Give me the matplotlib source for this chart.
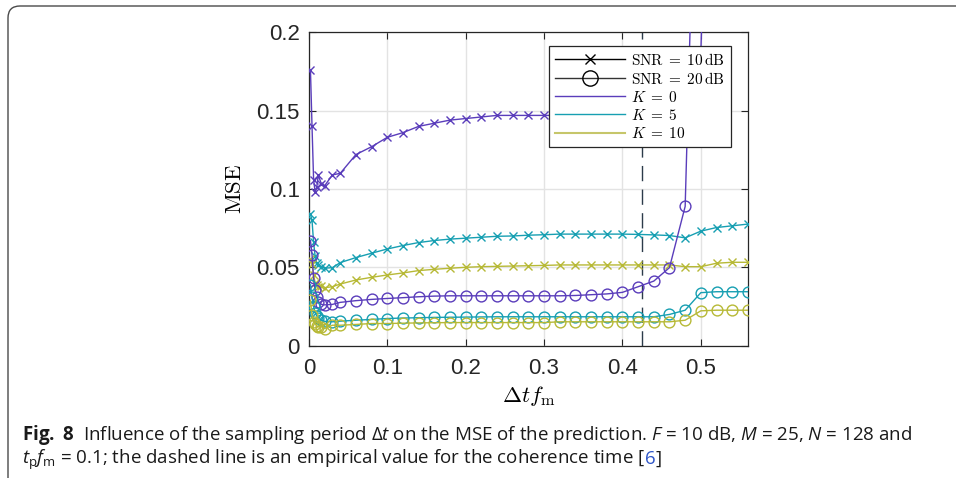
import matplotlib
matplotlib.use('Agg')
import matplotlib.pyplot as plt
from matplotlib.lines import Line2D
from matplotlib.patches import FancyBboxPatch
from matplotlib.transforms import IdentityTransform
from matplotlib import font_manager as fm

# ---------------- data ----------------
dt_fm = [0.002, 0.004, 0.006, 0.008, 0.010, 0.012, 0.016, 0.020, 0.030, 0.040,
         0.06, 0.08, 0.10, 0.12, 0.14, 0.16, 0.18, 0.20, 0.22, 0.24, 0.26, 0.28,
         0.30, 0.32, 0.34, 0.36, 0.38, 0.40, 0.42, 0.44, 0.46, 0.48, 0.50, 0.52,
         0.54, 0.56]

k0_snr10 = [0.176, 0.140, 0.106, 0.098, 0.101, 0.109, 0.103, 0.102, 0.109, 0.110,
            0.122, 0.127, 0.133, 0.136, 0.140, 0.142, 0.144, 0.145, 0.146, 0.147,
            0.147, 0.147, 0.147, 0.147, 0.147, 0.147, 0.147, 0.147, 0.147, 0.147,
            0.148, 0.152, 0.188, 0.50, 0.90, 1.20]
k5_snr10 = [0.084, 0.080, 0.066, 0.057, 0.053, 0.0515, 0.0504, 0.0494, 0.0498, 0.053,
            0.0562, 0.059, 0.0617, 0.0639, 0.0658, 0.0671, 0.068, 0.0686, 0.0692, 0.0698,
            0.070, 0.0705, 0.0708, 0.0712, 0.0712, 0.0712, 0.0712, 0.0712, 0.071, 0.0707,
            0.0703, 0.0688, 0.0731, 0.0754, 0.0765, 0.0776]
k10_snr10 = [0.055, 0.052, 0.045, 0.040, 0.0385, 0.0376, 0.0383, 0.037, 0.0376, 0.0393,
             0.0419, 0.0436, 0.0451, 0.0464, 0.0479, 0.0487, 0.0494, 0.050, 0.0504, 0.0506,
             0.0508, 0.051, 0.0512, 0.0515, 0.0515, 0.0515, 0.0515, 0.0515, 0.0515, 0.0515,
             0.0515, 0.0504, 0.0504, 0.0526, 0.0532, 0.0532]
k0_snr20 = [0.067, 0.058, 0.043, 0.0355, 0.031, 0.028, 0.0263, 0.026, 0.0263, 0.0276,
            0.0287, 0.0295, 0.0301, 0.0306, 0.0312, 0.0316, 0.0318, 0.0318, 0.0318, 0.0318,
            0.0318, 0.0318, 0.0318, 0.0318, 0.032, 0.0325, 0.033, 0.034, 0.0376, 0.0412,
            0.0498, 0.0889, 0.45, 1.0, 1.5, 2.0]
k5_snr20 = [0.039, 0.031, 0.025, 0.021, 0.019, 0.0175, 0.0162, 0.0155, 0.0152, 0.0156,
            0.0162, 0.0167, 0.0173, 0.0176, 0.0178, 0.018, 0.0181, 0.0182, 0.0183, 0.0184,
            0.0184, 0.0184, 0.0184, 0.0184, 0.0184, 0.0184, 0.0184, 0.0184, 0.0184, 0.0184,
            0.0199, 0.0226, 0.0338, 0.0344, 0.0344, 0.0344]
k10_snr20 = [0.029, 0.0194, 0.0152, 0.014, 0.0125, 0.012, 0.012, 0.0109, 0.013, 0.013,
             0.0135, 0.0141, 0.0141, 0.0143, 0.0145, 0.0146, 0.0147, 0.0147, 0.0147, 0.0147,
             0.0147, 0.0147, 0.0147, 0.0152, 0.0152, 0.0152, 0.0152, 0.0152, 0.0152, 0.0152,
             0.0152, 0.0162, 0.0222, 0.0226, 0.0226, 0.0226]

coherence_x = 0.425
x_ticks = [0, 0.1, 0.2, 0.3, 0.4, 0.5]
x_ticklabels = ['0', '0.1', '0.2', '0.3', '0.4', '0.5']
y_ticks = [0, 0.05, 0.1, 0.15, 0.2]
y_ticklabels = ['0', '0.05', '0.1', '0.15', '0.2']

legend_labels = [r'$\mathrm{SNR}\;=\;10\,\mathrm{dB}$', r'$\mathrm{SNR}\;=\;20\,\mathrm{dB}$',
                 r'$K\;=\;0$', r'$K\;=\;5$', r'$K\;=\;10$']

caption_line1 = (r"$\mathbf{Fig.\ 8}$  Influence of the sampling period $\Delta t$ on the MSE "
                 r"of the prediction. $F$ = 10 dB, $M$ = 25, $N$ = 128 and")
caption_line2a = r"$t_\mathrm{p}f_\mathrm{m}$ = 0.1; the dashed line is an empirical value for the coherence time ["
caption_ref = "6"
caption_line2b = "]"

# ---------------- style ----------------
c_k0 = '#5a3dbb'
c_k5 = '#179fb2'
c_k10 = '#b7b936'
tick_font = 'Liberation Sans'

def installed(name):
    try:
        fm.findfont(fm.FontProperties(family=name), fallback_to_default=False)
        return True
    except Exception:
        return False

cap_font = 'Open Sans'
for cand in ['Liberation Sans Narrow', 'Open Sans', 'Noto Sans']:
    if installed(cand):
        cap_font = cand
        break

plt.rcParams['mathtext.fontset'] = 'cm'
plt.rcParams['mathtext.rm'] = cap_font
plt.rcParams['mathtext.it'] = cap_font + ':italic'
plt.rcParams['mathtext.bf'] = cap_font + ':bold'

fig = plt.figure(figsize=(9.56, 4.78), dpi=100)
ax = fig.add_axes([0.3231, 0.2770, 0.4592, 0.6552])

ax.grid(True, color='#e3e3e3', linewidth=1.0)
ax.set_axisbelow(True)

ax.axvline(coherence_x, color='#2c3b4a', linewidth=1.0, linestyle=(0, (11, 6)), zorder=2)

series = [
    (k0_snr10, c_k0, 'x'), (k5_snr10, c_k5, 'x'), (k10_snr10, c_k10, 'x'),
    (k0_snr20, c_k0, 'o'), (k5_snr20, c_k5, 'o'), (k10_snr20, c_k10, 'o'),
]
for ys, col, mk in series:
    if mk == 'x':
        ax.plot(dt_fm, ys, color=col, linewidth=1.0, marker='x', markersize=5.5,
                markeredgewidth=1.0, zorder=3)
    else:
        ax.plot(dt_fm, ys, color=col, linewidth=1.0, marker='o', markersize=7.8,
                markerfacecolor='none', markeredgewidth=1.0, zorder=3)

ax.set_xlim(0, 0.56)
ax.set_ylim(0, 0.2)
ax.set_xticks(x_ticks)
ax.set_xticklabels(x_ticklabels)
ax.set_yticks(y_ticks)
ax.set_yticklabels(y_ticklabels)
for lab in ax.get_xticklabels() + ax.get_yticklabels():
    lab.set_fontfamily(tick_font)
    lab.set_fontsize(16)
    lab.set_color('#262626')
ax.tick_params(axis='both', direction='in', top=True, right=True, length=5,
               width=0.8, color='#262626')
ax.tick_params(axis='x', pad=9)
ax.tick_params(axis='y', pad=6.5)
for sp in ax.spines.values():
    sp.set_color('#262626')
    sp.set_linewidth(0.9)

ax.set_ylabel(r'$\mathrm{MSE}$', fontsize=16.5)
ax.yaxis.set_label_coords(-0.143, 0.5)
ax.set_xlabel(r'$\Delta t f_\mathrm{m}$', fontsize=16.5)
ax.xaxis.set_label_coords(0.5, -0.122)

handles = [
    Line2D([], [], color='k', linewidth=1.0, marker='x', markersize=7.5, markeredgewidth=1.0),
    Line2D([], [], color='#333333', linewidth=1.0, marker='o', markersize=11,
           markerfacecolor='none', markeredgecolor='k', markeredgewidth=1.0),
    Line2D([], [], color=c_k0, linewidth=1.0),
    Line2D([], [], color=c_k5, linewidth=1.0),
    Line2D([], [], color='#c6c66a', linewidth=1.5),
]
leg = ax.legend(handles, legend_labels, loc='upper right', bbox_to_anchor=(0.961, 0.958),
                borderaxespad=0, fontsize=11, handlelength=4.6, handletextpad=0.35,
                labelspacing=0.2, borderpad=0.4, numpoints=1, fancybox=False,
                framealpha=1, edgecolor='#262626')
leg.get_frame().set_linewidth(0.9)
leg.set_zorder(5)

# border frame
border = FancyBboxPatch((8, -30), 1000, 502, boxstyle='round,pad=0,rounding_size=12',
                        transform=IdentityTransform(), facecolor='none',
                        edgecolor='#4a4a4a', linewidth=1.0, clip_on=False)
fig.patches.append(border)

# caption
fig.canvas.draw()
renderer = fig.canvas.get_renderer()
W, H = 956, 478
x0 = 22 / W
t1 = fig.text(x0, (H - 440) / H, caption_line1, fontsize=12, family=cap_font,
              math_fontfamily='custom', va='baseline', ha='left', color='#1a1a1a')
w = t1.get_window_extent(renderer).width
fs = 12 * 888.0 / w
t1.set_fontsize(fs)

t2 = fig.text(x0, (H - 464) / H, caption_line2a, fontsize=fs, family=cap_font,
              math_fontfamily='custom', va='baseline', ha='left', color='#1a1a1a')
fig.canvas.draw()
bb = t2.get_window_extent(renderer)
t3 = fig.text(bb.x1 / W, (H - 464) / H, caption_ref, fontsize=fs, family=cap_font,
              va='baseline', ha='left', color='#2f56c8')
fig.canvas.draw()
bb3 = t3.get_window_extent(renderer)
fig.text(bb3.x1 / W, (H - 464) / H, caption_line2b, fontsize=fs, family=cap_font,
         va='baseline', ha='left', color='#1a1a1a')

fig.savefig('out.png', dpi=100)
